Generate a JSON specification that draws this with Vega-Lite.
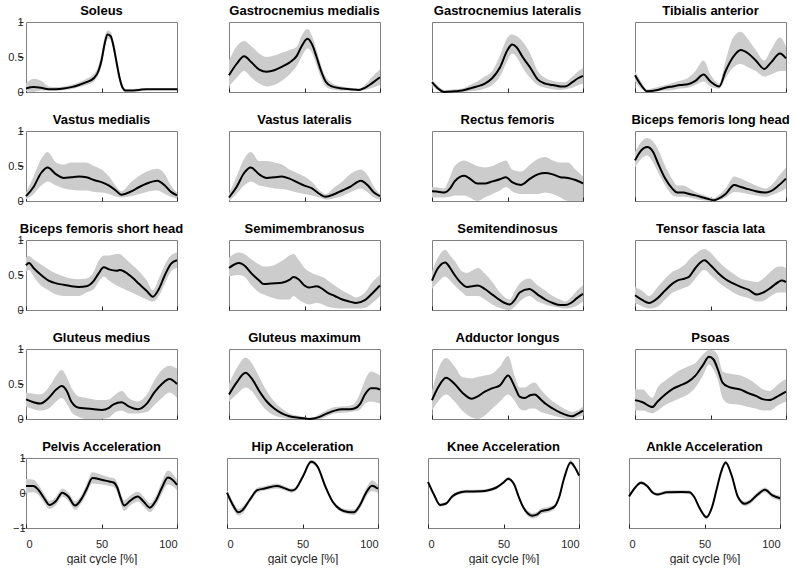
{
  "$schema": "https://vega.github.io/schema/vega-lite/v6.json",
  "padding": {"left": 0, "top": 4, "right": 0, "bottom": 0},
  "background": "white",
  "config": {
    "font": "Arial",
    "view": {"stroke": "#808080", "strokeWidth": 1},
    "axis": {
      "domain": false, "grid": false, "tickSize": -4, "tickColor": "#262626", "labelOverlap": false,
      "labelColor": "#262626", "labelFontSize": 11, "labelFont": "Arial",
      "titleFont": "Arial", "titleFontSize": 12, "titleFontWeight": "normal", "titleColor": "#262626"
    },
    "axisY": {"minExtent": 19, "maxExtent": 19},
    "header": {
      "title": null, "labelFont": "Arial", "labelFontSize": 13, "labelFontWeight": "bold",
      "labelColor": "#000000", "labelPadding": 4
    }
  },
  "datasets": {
    "emg": [
      {"panel":"Soleus","x":0,"mean":0.05,"lo":0.01,"hi":0.12},
      {"panel":"Soleus","x":5,"mean":0.07,"lo":0,"hi":0.19},
      {"panel":"Soleus","x":10,"mean":0.06,"lo":0.02,"hi":0.16},
      {"panel":"Soleus","x":15,"mean":0.04,"lo":0.02,"hi":0.08},
      {"panel":"Soleus","x":20,"mean":0.04,"lo":0.02,"hi":0.07},
      {"panel":"Soleus","x":25,"mean":0.05,"lo":0.03,"hi":0.08},
      {"panel":"Soleus","x":30,"mean":0.07,"lo":0.04,"hi":0.1},
      {"panel":"Soleus","x":35,"mean":0.1,"lo":0.07,"hi":0.14},
      {"panel":"Soleus","x":40,"mean":0.14,"lo":0.1,"hi":0.19},
      {"panel":"Soleus","x":45,"mean":0.2,"lo":0.15,"hi":0.26},
      {"panel":"Soleus","x":48,"mean":0.3,"lo":0.25,"hi":0.38},
      {"panel":"Soleus","x":50,"mean":0.45,"lo":0.38,"hi":0.55},
      {"panel":"Soleus","x":52,"mean":0.68,"lo":0.6,"hi":0.78},
      {"panel":"Soleus","x":54,"mean":0.82,"lo":0.76,"hi":0.88},
      {"panel":"Soleus","x":56,"mean":0.8,"lo":0.75,"hi":0.86},
      {"panel":"Soleus","x":58,"mean":0.65,"lo":0.58,"hi":0.72},
      {"panel":"Soleus","x":60,"mean":0.42,"lo":0.35,"hi":0.5},
      {"panel":"Soleus","x":62,"mean":0.2,"lo":0.14,"hi":0.26},
      {"panel":"Soleus","x":64,"mean":0.06,"lo":0.03,"hi":0.1},
      {"panel":"Soleus","x":66,"mean":0.02,"lo":0,"hi":0.04},
      {"panel":"Soleus","x":70,"mean":0.02,"lo":0.01,"hi":0.04},
      {"panel":"Soleus","x":75,"mean":0.03,"lo":0.02,"hi":0.05},
      {"panel":"Soleus","x":80,"mean":0.04,"lo":0.03,"hi":0.05},
      {"panel":"Soleus","x":90,"mean":0.04,"lo":0.03,"hi":0.05},
      {"panel":"Soleus","x":100,"mean":0.04,"lo":0.03,"hi":0.05},

      {"panel":"Gastrocnemius medialis","x":0,"mean":0.24,"lo":0.08,"hi":0.45},
      {"panel":"Gastrocnemius medialis","x":5,"mean":0.4,"lo":0.2,"hi":0.65},
      {"panel":"Gastrocnemius medialis","x":10,"mean":0.51,"lo":0.3,"hi":0.73},
      {"panel":"Gastrocnemius medialis","x":15,"mean":0.42,"lo":0.2,"hi":0.65},
      {"panel":"Gastrocnemius medialis","x":20,"mean":0.32,"lo":0.12,"hi":0.55},
      {"panel":"Gastrocnemius medialis","x":25,"mean":0.29,"lo":0.08,"hi":0.5},
      {"panel":"Gastrocnemius medialis","x":30,"mean":0.31,"lo":0.1,"hi":0.52},
      {"panel":"Gastrocnemius medialis","x":35,"mean":0.36,"lo":0.16,"hi":0.56},
      {"panel":"Gastrocnemius medialis","x":40,"mean":0.42,"lo":0.25,"hi":0.6},
      {"panel":"Gastrocnemius medialis","x":45,"mean":0.52,"lo":0.38,"hi":0.65},
      {"panel":"Gastrocnemius medialis","x":48,"mean":0.65,"lo":0.5,"hi":0.8},
      {"panel":"Gastrocnemius medialis","x":52,"mean":0.76,"lo":0.62,"hi":0.9},
      {"panel":"Gastrocnemius medialis","x":55,"mean":0.68,"lo":0.56,"hi":0.8},
      {"panel":"Gastrocnemius medialis","x":58,"mean":0.5,"lo":0.38,"hi":0.6},
      {"panel":"Gastrocnemius medialis","x":61,"mean":0.3,"lo":0.2,"hi":0.38},
      {"panel":"Gastrocnemius medialis","x":64,"mean":0.15,"lo":0.08,"hi":0.22},
      {"panel":"Gastrocnemius medialis","x":68,"mean":0.08,"lo":0.04,"hi":0.13},
      {"panel":"Gastrocnemius medialis","x":75,"mean":0.05,"lo":0.02,"hi":0.08},
      {"panel":"Gastrocnemius medialis","x":80,"mean":0.04,"lo":0.02,"hi":0.06},
      {"panel":"Gastrocnemius medialis","x":86,"mean":0.03,"lo":0.02,"hi":0.05},
      {"panel":"Gastrocnemius medialis","x":90,"mean":0.06,"lo":0.03,"hi":0.1},
      {"panel":"Gastrocnemius medialis","x":95,"mean":0.13,"lo":0.06,"hi":0.22},
      {"panel":"Gastrocnemius medialis","x":100,"mean":0.21,"lo":0.1,"hi":0.32},

      {"panel":"Gastrocnemius lateralis","x":0,"mean":0.14,"lo":0.1,"hi":0.18},
      {"panel":"Gastrocnemius lateralis","x":4,"mean":0.05,"lo":0.02,"hi":0.09},
      {"panel":"Gastrocnemius lateralis","x":8,"mean":0,"lo":0,"hi":0.03},
      {"panel":"Gastrocnemius lateralis","x":15,"mean":0.01,"lo":0,"hi":0.04},
      {"panel":"Gastrocnemius lateralis","x":20,"mean":0.02,"lo":0,"hi":0.05},
      {"panel":"Gastrocnemius lateralis","x":25,"mean":0.05,"lo":0.01,"hi":0.1},
      {"panel":"Gastrocnemius lateralis","x":30,"mean":0.08,"lo":0.02,"hi":0.15},
      {"panel":"Gastrocnemius lateralis","x":35,"mean":0.12,"lo":0.05,"hi":0.22},
      {"panel":"Gastrocnemius lateralis","x":40,"mean":0.2,"lo":0.1,"hi":0.3},
      {"panel":"Gastrocnemius lateralis","x":45,"mean":0.35,"lo":0.22,"hi":0.52},
      {"panel":"Gastrocnemius lateralis","x":50,"mean":0.6,"lo":0.45,"hi":0.78},
      {"panel":"Gastrocnemius lateralis","x":53,"mean":0.68,"lo":0.55,"hi":0.82},
      {"panel":"Gastrocnemius lateralis","x":56,"mean":0.64,"lo":0.5,"hi":0.8},
      {"panel":"Gastrocnemius lateralis","x":60,"mean":0.5,"lo":0.35,"hi":0.72},
      {"panel":"Gastrocnemius lateralis","x":65,"mean":0.35,"lo":0.2,"hi":0.55},
      {"panel":"Gastrocnemius lateralis","x":70,"mean":0.18,"lo":0.1,"hi":0.3},
      {"panel":"Gastrocnemius lateralis","x":75,"mean":0.12,"lo":0.06,"hi":0.2},
      {"panel":"Gastrocnemius lateralis","x":80,"mean":0.1,"lo":0.04,"hi":0.16},
      {"panel":"Gastrocnemius lateralis","x":85,"mean":0.08,"lo":0.03,"hi":0.14},
      {"panel":"Gastrocnemius lateralis","x":88,"mean":0.08,"lo":0.04,"hi":0.14},
      {"panel":"Gastrocnemius lateralis","x":93,"mean":0.14,"lo":0.06,"hi":0.22},
      {"panel":"Gastrocnemius lateralis","x":97,"mean":0.2,"lo":0.1,"hi":0.3},
      {"panel":"Gastrocnemius lateralis","x":100,"mean":0.23,"lo":0.12,"hi":0.34},

      {"panel":"Tibialis anterior","x":0,"mean":0.24,"lo":0.15,"hi":0.3},
      {"panel":"Tibialis anterior","x":4,"mean":0.1,"lo":0.05,"hi":0.15},
      {"panel":"Tibialis anterior","x":8,"mean":0.01,"lo":0,"hi":0.04},
      {"panel":"Tibialis anterior","x":15,"mean":0.03,"lo":0.01,"hi":0.07},
      {"panel":"Tibialis anterior","x":20,"mean":0.06,"lo":0.02,"hi":0.1},
      {"panel":"Tibialis anterior","x":25,"mean":0.08,"lo":0.03,"hi":0.13},
      {"panel":"Tibialis anterior","x":30,"mean":0.1,"lo":0.05,"hi":0.16},
      {"panel":"Tibialis anterior","x":35,"mean":0.11,"lo":0.06,"hi":0.2},
      {"panel":"Tibialis anterior","x":40,"mean":0.16,"lo":0.1,"hi":0.3},
      {"panel":"Tibialis anterior","x":45.4,"mean":0.25,"lo":0.15,"hi":0.45},
      {"panel":"Tibialis anterior","x":50,"mean":0.15,"lo":0.08,"hi":0.25},
      {"panel":"Tibialis anterior","x":55.8,"mean":0.08,"lo":0.05,"hi":0.12},
      {"panel":"Tibialis anterior","x":60,"mean":0.3,"lo":0.2,"hi":0.45},
      {"panel":"Tibialis anterior","x":65,"mean":0.5,"lo":0.35,"hi":0.78},
      {"panel":"Tibialis anterior","x":70,"mean":0.6,"lo":0.4,"hi":0.86},
      {"panel":"Tibialis anterior","x":75,"mean":0.55,"lo":0.35,"hi":0.75},
      {"panel":"Tibialis anterior","x":80,"mean":0.45,"lo":0.3,"hi":0.6},
      {"panel":"Tibialis anterior","x":85.6,"mean":0.33,"lo":0.22,"hi":0.45},
      {"panel":"Tibialis anterior","x":90,"mean":0.42,"lo":0.25,"hi":0.6},
      {"panel":"Tibialis anterior","x":96,"mean":0.55,"lo":0.3,"hi":0.78},
      {"panel":"Tibialis anterior","x":100,"mean":0.48,"lo":0.3,"hi":0.65},

      {"panel":"Vastus medialis","x":0,"mean":0.07,"lo":0.02,"hi":0.12},
      {"panel":"Vastus medialis","x":5,"mean":0.2,"lo":0.1,"hi":0.35},
      {"panel":"Vastus medialis","x":10,"mean":0.4,"lo":0.22,"hi":0.6},
      {"panel":"Vastus medialis","x":14.3,"mean":0.48,"lo":0.28,"hi":0.7},
      {"panel":"Vastus medialis","x":20,"mean":0.38,"lo":0.22,"hi":0.55},
      {"panel":"Vastus medialis","x":25,"mean":0.33,"lo":0.18,"hi":0.52},
      {"panel":"Vastus medialis","x":30,"mean":0.34,"lo":0.16,"hi":0.55},
      {"panel":"Vastus medialis","x":35,"mean":0.35,"lo":0.15,"hi":0.55},
      {"panel":"Vastus medialis","x":40,"mean":0.34,"lo":0.15,"hi":0.55},
      {"panel":"Vastus medialis","x":45,"mean":0.3,"lo":0.13,"hi":0.5},
      {"panel":"Vastus medialis","x":50,"mean":0.27,"lo":0.12,"hi":0.45},
      {"panel":"Vastus medialis","x":55,"mean":0.22,"lo":0.1,"hi":0.35},
      {"panel":"Vastus medialis","x":60,"mean":0.14,"lo":0.06,"hi":0.2},
      {"panel":"Vastus medialis","x":63,"mean":0.09,"lo":0.05,"hi":0.14},
      {"panel":"Vastus medialis","x":70,"mean":0.14,"lo":0.07,"hi":0.28},
      {"panel":"Vastus medialis","x":75,"mean":0.2,"lo":0.1,"hi":0.36},
      {"panel":"Vastus medialis","x":80,"mean":0.25,"lo":0.13,"hi":0.42},
      {"panel":"Vastus medialis","x":87,"mean":0.29,"lo":0.15,"hi":0.46},
      {"panel":"Vastus medialis","x":92,"mean":0.22,"lo":0.1,"hi":0.38},
      {"panel":"Vastus medialis","x":96,"mean":0.13,"lo":0.06,"hi":0.22},
      {"panel":"Vastus medialis","x":100,"mean":0.08,"lo":0.03,"hi":0.12},

      {"panel":"Vastus lateralis","x":0,"mean":0.05,"lo":0,"hi":0.1},
      {"panel":"Vastus lateralis","x":5,"mean":0.2,"lo":0.1,"hi":0.35},
      {"panel":"Vastus lateralis","x":10,"mean":0.4,"lo":0.22,"hi":0.6},
      {"panel":"Vastus lateralis","x":14.4,"mean":0.48,"lo":0.28,"hi":0.7},
      {"panel":"Vastus lateralis","x":20,"mean":0.38,"lo":0.22,"hi":0.57},
      {"panel":"Vastus lateralis","x":25,"mean":0.33,"lo":0.2,"hi":0.57},
      {"panel":"Vastus lateralis","x":30,"mean":0.34,"lo":0.18,"hi":0.55},
      {"panel":"Vastus lateralis","x":35,"mean":0.35,"lo":0.17,"hi":0.52},
      {"panel":"Vastus lateralis","x":40,"mean":0.32,"lo":0.15,"hi":0.45},
      {"panel":"Vastus lateralis","x":45,"mean":0.27,"lo":0.12,"hi":0.4},
      {"panel":"Vastus lateralis","x":50,"mean":0.22,"lo":0.1,"hi":0.35},
      {"panel":"Vastus lateralis","x":55,"mean":0.18,"lo":0.08,"hi":0.27},
      {"panel":"Vastus lateralis","x":60,"mean":0.1,"lo":0.05,"hi":0.15},
      {"panel":"Vastus lateralis","x":64,"mean":0.06,"lo":0.02,"hi":0.1},
      {"panel":"Vastus lateralis","x":70,"mean":0.1,"lo":0.04,"hi":0.2},
      {"panel":"Vastus lateralis","x":75,"mean":0.15,"lo":0.07,"hi":0.28},
      {"panel":"Vastus lateralis","x":80,"mean":0.2,"lo":0.12,"hi":0.38},
      {"panel":"Vastus lateralis","x":87.4,"mean":0.29,"lo":0.18,"hi":0.45},
      {"panel":"Vastus lateralis","x":92,"mean":0.22,"lo":0.12,"hi":0.36},
      {"panel":"Vastus lateralis","x":96,"mean":0.12,"lo":0.05,"hi":0.2},
      {"panel":"Vastus lateralis","x":100,"mean":0.07,"lo":0.02,"hi":0.1},

      {"panel":"Rectus femoris","x":0,"mean":0.14,"lo":0.05,"hi":0.2},
      {"panel":"Rectus femoris","x":5,"mean":0.13,"lo":0.05,"hi":0.19},
      {"panel":"Rectus femoris","x":8,"mean":0.12,"lo":0.05,"hi":0.18},
      {"panel":"Rectus femoris","x":12,"mean":0.18,"lo":0.06,"hi":0.35},
      {"panel":"Rectus femoris","x":15,"mean":0.28,"lo":0.08,"hi":0.5},
      {"panel":"Rectus femoris","x":21.5,"mean":0.36,"lo":0.08,"hi":0.58},
      {"panel":"Rectus femoris","x":25,"mean":0.32,"lo":0.05,"hi":0.55},
      {"panel":"Rectus femoris","x":30,"mean":0.25,"lo":0,"hi":0.5},
      {"panel":"Rectus femoris","x":35,"mean":0.25,"lo":0.05,"hi":0.48},
      {"panel":"Rectus femoris","x":40,"mean":0.28,"lo":0.1,"hi":0.5},
      {"panel":"Rectus femoris","x":45,"mean":0.31,"lo":0.15,"hi":0.55},
      {"panel":"Rectus femoris","x":49,"mean":0.34,"lo":0.2,"hi":0.58},
      {"panel":"Rectus femoris","x":53,"mean":0.27,"lo":0.14,"hi":0.45},
      {"panel":"Rectus femoris","x":59,"mean":0.23,"lo":0.1,"hi":0.42},
      {"panel":"Rectus femoris","x":65,"mean":0.32,"lo":0.1,"hi":0.52},
      {"panel":"Rectus femoris","x":70,"mean":0.38,"lo":0.1,"hi":0.6},
      {"panel":"Rectus femoris","x":75,"mean":0.4,"lo":0.12,"hi":0.63},
      {"panel":"Rectus femoris","x":80,"mean":0.38,"lo":0.1,"hi":0.58},
      {"panel":"Rectus femoris","x":85,"mean":0.34,"lo":0.05,"hi":0.55},
      {"panel":"Rectus femoris","x":90,"mean":0.33,"lo":0,"hi":0.55},
      {"panel":"Rectus femoris","x":95,"mean":0.3,"lo":0,"hi":0.45},
      {"panel":"Rectus femoris","x":100,"mean":0.25,"lo":0,"hi":0.35},

      {"panel":"Biceps femoris long head","x":0,"mean":0.58,"lo":0.48,"hi":0.7},
      {"panel":"Biceps femoris long head","x":4,"mean":0.72,"lo":0.6,"hi":0.84},
      {"panel":"Biceps femoris long head","x":8,"mean":0.77,"lo":0.65,"hi":0.9},
      {"panel":"Biceps femoris long head","x":12,"mean":0.7,"lo":0.55,"hi":0.85},
      {"panel":"Biceps femoris long head","x":15,"mean":0.55,"lo":0.42,"hi":0.75},
      {"panel":"Biceps femoris long head","x":20,"mean":0.32,"lo":0.22,"hi":0.5},
      {"panel":"Biceps femoris long head","x":25,"mean":0.17,"lo":0.08,"hi":0.3},
      {"panel":"Biceps femoris long head","x":28,"mean":0.12,"lo":0.06,"hi":0.22},
      {"panel":"Biceps femoris long head","x":32,"mean":0.12,"lo":0.06,"hi":0.22},
      {"panel":"Biceps femoris long head","x":36,"mean":0.1,"lo":0.05,"hi":0.18},
      {"panel":"Biceps femoris long head","x":40,"mean":0.08,"lo":0.03,"hi":0.13},
      {"panel":"Biceps femoris long head","x":45,"mean":0.05,"lo":0.01,"hi":0.09},
      {"panel":"Biceps femoris long head","x":50,"mean":0.02,"lo":0,"hi":0.05},
      {"panel":"Biceps femoris long head","x":52,"mean":0.01,"lo":0,"hi":0.04},
      {"panel":"Biceps femoris long head","x":55,"mean":0.03,"lo":0.01,"hi":0.08},
      {"panel":"Biceps femoris long head","x":60,"mean":0.1,"lo":0.05,"hi":0.18},
      {"panel":"Biceps femoris long head","x":65.7,"mean":0.23,"lo":0.13,"hi":0.35},
      {"panel":"Biceps femoris long head","x":70,"mean":0.2,"lo":0.12,"hi":0.32},
      {"panel":"Biceps femoris long head","x":75,"mean":0.17,"lo":0.1,"hi":0.27},
      {"panel":"Biceps femoris long head","x":80,"mean":0.14,"lo":0.08,"hi":0.22},
      {"panel":"Biceps femoris long head","x":86.7,"mean":0.12,"lo":0.06,"hi":0.18},
      {"panel":"Biceps femoris long head","x":90,"mean":0.14,"lo":0.08,"hi":0.22},
      {"panel":"Biceps femoris long head","x":95,"mean":0.22,"lo":0.12,"hi":0.35},
      {"panel":"Biceps femoris long head","x":100,"mean":0.32,"lo":0.18,"hi":0.48},

      {"panel":"Biceps femoris short head","x":0,"mean":0.64,"lo":0.55,"hi":0.75},
      {"panel":"Biceps femoris short head","x":2,"mean":0.67,"lo":0.57,"hi":0.77},
      {"panel":"Biceps femoris short head","x":5,"mean":0.6,"lo":0.48,"hi":0.72},
      {"panel":"Biceps femoris short head","x":10,"mean":0.5,"lo":0.35,"hi":0.65},
      {"panel":"Biceps femoris short head","x":15,"mean":0.42,"lo":0.28,"hi":0.58},
      {"panel":"Biceps femoris short head","x":20,"mean":0.38,"lo":0.22,"hi":0.52},
      {"panel":"Biceps femoris short head","x":25,"mean":0.36,"lo":0.2,"hi":0.48},
      {"panel":"Biceps femoris short head","x":30,"mean":0.34,"lo":0.2,"hi":0.45},
      {"panel":"Biceps femoris short head","x":35,"mean":0.33,"lo":0.2,"hi":0.44},
      {"panel":"Biceps femoris short head","x":40,"mean":0.34,"lo":0.25,"hi":0.45},
      {"panel":"Biceps femoris short head","x":45,"mean":0.42,"lo":0.3,"hi":0.55},
      {"panel":"Biceps femoris short head","x":48,"mean":0.52,"lo":0.4,"hi":0.7},
      {"panel":"Biceps femoris short head","x":51.5,"mean":0.61,"lo":0.48,"hi":0.78},
      {"panel":"Biceps femoris short head","x":55,"mean":0.58,"lo":0.42,"hi":0.78},
      {"panel":"Biceps femoris short head","x":60,"mean":0.56,"lo":0.35,"hi":0.8},
      {"panel":"Biceps femoris short head","x":62,"mean":0.57,"lo":0.33,"hi":0.8},
      {"panel":"Biceps femoris short head","x":65,"mean":0.55,"lo":0.3,"hi":0.75},
      {"panel":"Biceps femoris short head","x":70,"mean":0.47,"lo":0.25,"hi":0.65},
      {"panel":"Biceps femoris short head","x":75,"mean":0.37,"lo":0.2,"hi":0.55},
      {"panel":"Biceps femoris short head","x":80,"mean":0.27,"lo":0.15,"hi":0.42},
      {"panel":"Biceps femoris short head","x":84,"mean":0.19,"lo":0.12,"hi":0.28},
      {"panel":"Biceps femoris short head","x":88,"mean":0.3,"lo":0.2,"hi":0.45},
      {"panel":"Biceps femoris short head","x":92,"mean":0.5,"lo":0.38,"hi":0.65},
      {"panel":"Biceps femoris short head","x":96,"mean":0.66,"lo":0.55,"hi":0.78},
      {"panel":"Biceps femoris short head","x":100,"mean":0.71,"lo":0.6,"hi":0.82},

      {"panel":"Semimembranosus","x":0,"mean":0.6,"lo":0.48,"hi":0.75},
      {"panel":"Semimembranosus","x":6.6,"mean":0.67,"lo":0.5,"hi":0.82},
      {"panel":"Semimembranosus","x":10,"mean":0.64,"lo":0.48,"hi":0.8},
      {"panel":"Semimembranosus","x":15,"mean":0.52,"lo":0.35,"hi":0.72},
      {"panel":"Semimembranosus","x":20,"mean":0.42,"lo":0.25,"hi":0.65},
      {"panel":"Semimembranosus","x":23,"mean":0.37,"lo":0.22,"hi":0.62},
      {"panel":"Semimembranosus","x":28,"mean":0.38,"lo":0.18,"hi":0.63},
      {"panel":"Semimembranosus","x":35,"mean":0.39,"lo":0.15,"hi":0.7},
      {"panel":"Semimembranosus","x":40,"mean":0.43,"lo":0.15,"hi":0.78},
      {"panel":"Semimembranosus","x":42.7,"mean":0.47,"lo":0.2,"hi":0.8},
      {"panel":"Semimembranosus","x":46,"mean":0.44,"lo":0.15,"hi":0.72},
      {"panel":"Semimembranosus","x":50,"mean":0.35,"lo":0.1,"hi":0.6},
      {"panel":"Semimembranosus","x":53,"mean":0.32,"lo":0.08,"hi":0.55},
      {"panel":"Semimembranosus","x":58,"mean":0.34,"lo":0.1,"hi":0.5},
      {"panel":"Semimembranosus","x":62,"mean":0.3,"lo":0.08,"hi":0.47},
      {"panel":"Semimembranosus","x":65,"mean":0.25,"lo":0.05,"hi":0.43},
      {"panel":"Semimembranosus","x":70,"mean":0.2,"lo":0.03,"hi":0.35},
      {"panel":"Semimembranosus","x":75,"mean":0.15,"lo":0.02,"hi":0.28},
      {"panel":"Semimembranosus","x":80,"mean":0.12,"lo":0.02,"hi":0.22},
      {"panel":"Semimembranosus","x":84,"mean":0.1,"lo":0.02,"hi":0.18},
      {"panel":"Semimembranosus","x":90,"mean":0.14,"lo":0.03,"hi":0.25},
      {"panel":"Semimembranosus","x":95,"mean":0.24,"lo":0.1,"hi":0.4},
      {"panel":"Semimembranosus","x":100,"mean":0.35,"lo":0.2,"hi":0.5},

      {"panel":"Semitendinosus","x":0,"mean":0.42,"lo":0.3,"hi":0.55},
      {"panel":"Semitendinosus","x":4,"mean":0.6,"lo":0.4,"hi":0.75},
      {"panel":"Semitendinosus","x":8.7,"mean":0.68,"lo":0.48,"hi":0.86},
      {"panel":"Semitendinosus","x":12,"mean":0.6,"lo":0.42,"hi":0.78},
      {"panel":"Semitendinosus","x":15,"mean":0.5,"lo":0.35,"hi":0.7},
      {"panel":"Semitendinosus","x":20,"mean":0.37,"lo":0.25,"hi":0.55},
      {"panel":"Semitendinosus","x":23,"mean":0.33,"lo":0.2,"hi":0.53},
      {"panel":"Semitendinosus","x":30.4,"mean":0.35,"lo":0.2,"hi":0.6},
      {"panel":"Semitendinosus","x":35,"mean":0.3,"lo":0.15,"hi":0.52},
      {"panel":"Semitendinosus","x":40,"mean":0.22,"lo":0.08,"hi":0.4},
      {"panel":"Semitendinosus","x":45,"mean":0.14,"lo":0.03,"hi":0.25},
      {"panel":"Semitendinosus","x":51.5,"mean":0.08,"lo":0,"hi":0.15},
      {"panel":"Semitendinosus","x":55,"mean":0.15,"lo":0.05,"hi":0.28},
      {"panel":"Semitendinosus","x":58,"mean":0.25,"lo":0.12,"hi":0.38},
      {"panel":"Semitendinosus","x":64.4,"mean":0.3,"lo":0.2,"hi":0.45},
      {"panel":"Semitendinosus","x":70,"mean":0.22,"lo":0.12,"hi":0.35},
      {"panel":"Semitendinosus","x":75,"mean":0.15,"lo":0.08,"hi":0.28},
      {"panel":"Semitendinosus","x":80,"mean":0.1,"lo":0.05,"hi":0.2},
      {"panel":"Semitendinosus","x":85,"mean":0.07,"lo":0.03,"hi":0.15},
      {"panel":"Semitendinosus","x":88,"mean":0.07,"lo":0.02,"hi":0.12},
      {"panel":"Semitendinosus","x":92,"mean":0.1,"lo":0.03,"hi":0.18},
      {"panel":"Semitendinosus","x":96,"mean":0.17,"lo":0.06,"hi":0.28},
      {"panel":"Semitendinosus","x":100,"mean":0.23,"lo":0.12,"hi":0.35},

      {"panel":"Tensor fascia lata","x":0,"mean":0.21,"lo":0.1,"hi":0.33},
      {"panel":"Tensor fascia lata","x":5,"mean":0.14,"lo":0.05,"hi":0.27},
      {"panel":"Tensor fascia lata","x":9.3,"mean":0.1,"lo":0.02,"hi":0.2},
      {"panel":"Tensor fascia lata","x":15,"mean":0.17,"lo":0.05,"hi":0.33},
      {"panel":"Tensor fascia lata","x":20,"mean":0.28,"lo":0.15,"hi":0.45},
      {"panel":"Tensor fascia lata","x":25,"mean":0.38,"lo":0.25,"hi":0.55},
      {"panel":"Tensor fascia lata","x":28,"mean":0.42,"lo":0.28,"hi":0.58},
      {"panel":"Tensor fascia lata","x":33,"mean":0.45,"lo":0.32,"hi":0.65},
      {"panel":"Tensor fascia lata","x":36,"mean":0.48,"lo":0.35,"hi":0.72},
      {"panel":"Tensor fascia lata","x":40,"mean":0.6,"lo":0.45,"hi":0.8},
      {"panel":"Tensor fascia lata","x":46,"mean":0.71,"lo":0.57,"hi":0.87},
      {"panel":"Tensor fascia lata","x":50,"mean":0.64,"lo":0.5,"hi":0.82},
      {"panel":"Tensor fascia lata","x":55,"mean":0.53,"lo":0.4,"hi":0.7},
      {"panel":"Tensor fascia lata","x":60,"mean":0.44,"lo":0.32,"hi":0.6},
      {"panel":"Tensor fascia lata","x":65,"mean":0.38,"lo":0.25,"hi":0.52},
      {"panel":"Tensor fascia lata","x":70,"mean":0.33,"lo":0.2,"hi":0.45},
      {"panel":"Tensor fascia lata","x":75,"mean":0.29,"lo":0.17,"hi":0.42},
      {"panel":"Tensor fascia lata","x":80.8,"mean":0.22,"lo":0.12,"hi":0.4},
      {"panel":"Tensor fascia lata","x":85,"mean":0.25,"lo":0.13,"hi":0.45},
      {"panel":"Tensor fascia lata","x":90,"mean":0.32,"lo":0.2,"hi":0.55},
      {"panel":"Tensor fascia lata","x":95,"mean":0.4,"lo":0.25,"hi":0.62},
      {"panel":"Tensor fascia lata","x":97,"mean":0.42,"lo":0.25,"hi":0.62},
      {"panel":"Tensor fascia lata","x":100,"mean":0.4,"lo":0.25,"hi":0.6},

      {"panel":"Gluteus medius","x":0,"mean":0.28,"lo":0.18,"hi":0.38},
      {"panel":"Gluteus medius","x":5,"mean":0.24,"lo":0.14,"hi":0.36},
      {"panel":"Gluteus medius","x":9.5,"mean":0.22,"lo":0.12,"hi":0.35},
      {"panel":"Gluteus medius","x":15,"mean":0.3,"lo":0.15,"hi":0.45},
      {"panel":"Gluteus medius","x":20,"mean":0.42,"lo":0.25,"hi":0.62},
      {"panel":"Gluteus medius","x":23.6,"mean":0.47,"lo":0.3,"hi":0.7},
      {"panel":"Gluteus medius","x":27,"mean":0.4,"lo":0.22,"hi":0.6},
      {"panel":"Gluteus medius","x":30,"mean":0.25,"lo":0.1,"hi":0.45},
      {"panel":"Gluteus medius","x":35,"mean":0.16,"lo":0.03,"hi":0.32},
      {"panel":"Gluteus medius","x":40,"mean":0.15,"lo":0,"hi":0.3},
      {"panel":"Gluteus medius","x":45,"mean":0.14,"lo":0,"hi":0.28},
      {"panel":"Gluteus medius","x":50,"mean":0.13,"lo":0,"hi":0.27},
      {"panel":"Gluteus medius","x":55,"mean":0.16,"lo":0.02,"hi":0.28},
      {"panel":"Gluteus medius","x":58,"mean":0.21,"lo":0.08,"hi":0.33},
      {"panel":"Gluteus medius","x":63.4,"mean":0.24,"lo":0.12,"hi":0.4},
      {"panel":"Gluteus medius","x":68,"mean":0.18,"lo":0.08,"hi":0.3},
      {"panel":"Gluteus medius","x":74,"mean":0.14,"lo":0.08,"hi":0.25},
      {"panel":"Gluteus medius","x":80,"mean":0.22,"lo":0.1,"hi":0.35},
      {"panel":"Gluteus medius","x":85,"mean":0.38,"lo":0.2,"hi":0.55},
      {"panel":"Gluteus medius","x":90,"mean":0.5,"lo":0.3,"hi":0.7},
      {"panel":"Gluteus medius","x":95,"mean":0.57,"lo":0.38,"hi":0.76},
      {"panel":"Gluteus medius","x":100,"mean":0.5,"lo":0.3,"hi":0.72},

      {"panel":"Gluteus maximum","x":0,"mean":0.35,"lo":0.25,"hi":0.5},
      {"panel":"Gluteus maximum","x":5,"mean":0.52,"lo":0.35,"hi":0.72},
      {"panel":"Gluteus maximum","x":11,"mean":0.66,"lo":0.45,"hi":0.88},
      {"panel":"Gluteus maximum","x":15,"mean":0.58,"lo":0.4,"hi":0.8},
      {"panel":"Gluteus maximum","x":20,"mean":0.4,"lo":0.25,"hi":0.6},
      {"panel":"Gluteus maximum","x":25,"mean":0.25,"lo":0.12,"hi":0.4},
      {"panel":"Gluteus maximum","x":30,"mean":0.15,"lo":0.05,"hi":0.25},
      {"panel":"Gluteus maximum","x":35,"mean":0.08,"lo":0.02,"hi":0.15},
      {"panel":"Gluteus maximum","x":40,"mean":0.04,"lo":0,"hi":0.08},
      {"panel":"Gluteus maximum","x":45,"mean":0.02,"lo":0,"hi":0.05},
      {"panel":"Gluteus maximum","x":50,"mean":0.01,"lo":0,"hi":0.03},
      {"panel":"Gluteus maximum","x":53,"mean":0,"lo":0,"hi":0.02},
      {"panel":"Gluteus maximum","x":57,"mean":0.01,"lo":0,"hi":0.03},
      {"panel":"Gluteus maximum","x":60,"mean":0.03,"lo":0,"hi":0.07},
      {"panel":"Gluteus maximum","x":65,"mean":0.08,"lo":0.04,"hi":0.13},
      {"panel":"Gluteus maximum","x":70,"mean":0.12,"lo":0.08,"hi":0.17},
      {"panel":"Gluteus maximum","x":75,"mean":0.14,"lo":0.09,"hi":0.18},
      {"panel":"Gluteus maximum","x":80,"mean":0.14,"lo":0.1,"hi":0.19},
      {"panel":"Gluteus maximum","x":83,"mean":0.15,"lo":0.11,"hi":0.22},
      {"panel":"Gluteus maximum","x":87,"mean":0.22,"lo":0.14,"hi":0.38},
      {"panel":"Gluteus maximum","x":90,"mean":0.35,"lo":0.22,"hi":0.55},
      {"panel":"Gluteus maximum","x":94,"mean":0.44,"lo":0.25,"hi":0.68},
      {"panel":"Gluteus maximum","x":97,"mean":0.44,"lo":0.24,"hi":0.66},
      {"panel":"Gluteus maximum","x":100,"mean":0.42,"lo":0.22,"hi":0.62},

      {"panel":"Adductor longus","x":0,"mean":0.27,"lo":0.12,"hi":0.4},
      {"panel":"Adductor longus","x":4,"mean":0.45,"lo":0.25,"hi":0.7},
      {"panel":"Adductor longus","x":9.3,"mean":0.59,"lo":0.35,"hi":0.87},
      {"panel":"Adductor longus","x":15,"mean":0.5,"lo":0.25,"hi":0.75},
      {"panel":"Adductor longus","x":20,"mean":0.38,"lo":0.12,"hi":0.6},
      {"panel":"Adductor longus","x":26.4,"mean":0.29,"lo":0.02,"hi":0.58},
      {"panel":"Adductor longus","x":30,"mean":0.32,"lo":0,"hi":0.6},
      {"panel":"Adductor longus","x":35,"mean":0.39,"lo":0.05,"hi":0.62},
      {"panel":"Adductor longus","x":40,"mean":0.44,"lo":0.15,"hi":0.65},
      {"panel":"Adductor longus","x":45,"mean":0.48,"lo":0.25,"hi":0.75},
      {"panel":"Adductor longus","x":50.4,"mean":0.62,"lo":0.35,"hi":0.9},
      {"panel":"Adductor longus","x":55,"mean":0.45,"lo":0.25,"hi":0.6},
      {"panel":"Adductor longus","x":58,"mean":0.32,"lo":0.15,"hi":0.45},
      {"panel":"Adductor longus","x":61.5,"mean":0.3,"lo":0.12,"hi":0.45},
      {"panel":"Adductor longus","x":65,"mean":0.34,"lo":0.15,"hi":0.5},
      {"panel":"Adductor longus","x":68,"mean":0.35,"lo":0.15,"hi":0.52},
      {"panel":"Adductor longus","x":72,"mean":0.28,"lo":0.1,"hi":0.42},
      {"panel":"Adductor longus","x":75,"mean":0.22,"lo":0.08,"hi":0.35},
      {"panel":"Adductor longus","x":80,"mean":0.15,"lo":0.05,"hi":0.25},
      {"panel":"Adductor longus","x":85,"mean":0.09,"lo":0.02,"hi":0.18},
      {"panel":"Adductor longus","x":90,"mean":0.05,"lo":0,"hi":0.12},
      {"panel":"Adductor longus","x":92.7,"mean":0.04,"lo":0,"hi":0.1},
      {"panel":"Adductor longus","x":96,"mean":0.07,"lo":0.02,"hi":0.12},
      {"panel":"Adductor longus","x":100,"mean":0.12,"lo":0.05,"hi":0.18},

      {"panel":"Psoas","x":0,"mean":0.27,"lo":0.12,"hi":0.42},
      {"panel":"Psoas","x":5,"mean":0.24,"lo":0.12,"hi":0.42},
      {"panel":"Psoas","x":11.5,"mean":0.17,"lo":0.08,"hi":0.3},
      {"panel":"Psoas","x":15,"mean":0.25,"lo":0.12,"hi":0.45},
      {"panel":"Psoas","x":20,"mean":0.35,"lo":0.2,"hi":0.55},
      {"panel":"Psoas","x":25,"mean":0.43,"lo":0.25,"hi":0.63},
      {"panel":"Psoas","x":30,"mean":0.48,"lo":0.3,"hi":0.7},
      {"panel":"Psoas","x":35,"mean":0.53,"lo":0.35,"hi":0.75},
      {"panel":"Psoas","x":40,"mean":0.62,"lo":0.45,"hi":0.8},
      {"panel":"Psoas","x":45,"mean":0.77,"lo":0.62,"hi":0.92},
      {"panel":"Psoas","x":49,"mean":0.89,"lo":0.78,"hi":0.99},
      {"panel":"Psoas","x":52,"mean":0.85,"lo":0.7,"hi":0.98},
      {"panel":"Psoas","x":55,"mean":0.7,"lo":0.55,"hi":0.9},
      {"panel":"Psoas","x":58,"mean":0.52,"lo":0.3,"hi":0.68},
      {"panel":"Psoas","x":62,"mean":0.46,"lo":0.22,"hi":0.65},
      {"panel":"Psoas","x":70,"mean":0.42,"lo":0.2,"hi":0.62},
      {"panel":"Psoas","x":75,"mean":0.37,"lo":0.17,"hi":0.57},
      {"panel":"Psoas","x":80,"mean":0.33,"lo":0.15,"hi":0.5},
      {"panel":"Psoas","x":85,"mean":0.28,"lo":0.12,"hi":0.42},
      {"panel":"Psoas","x":89,"mean":0.27,"lo":0.12,"hi":0.4},
      {"panel":"Psoas","x":95,"mean":0.33,"lo":0.2,"hi":0.5},
      {"panel":"Psoas","x":100,"mean":0.39,"lo":0.25,"hi":0.57}
    ],
    "acc": [
      {"panel":"Pelvis Acceleration","x":0,"mean":0.2,"lo":0,"hi":0.4},
      {"panel":"Pelvis Acceleration","x":5,"mean":0.2,"lo":0.02,"hi":0.38},
      {"panel":"Pelvis Acceleration","x":8,"mean":0.1,"lo":-0.05,"hi":0.25},
      {"panel":"Pelvis Acceleration","x":12,"mean":-0.15,"lo":-0.28,"hi":-0.02},
      {"panel":"Pelvis Acceleration","x":15.5,"mean":-0.34,"lo":-0.46,"hi":-0.22},
      {"panel":"Pelvis Acceleration","x":20,"mean":-0.22,"lo":-0.34,"hi":-0.1},
      {"panel":"Pelvis Acceleration","x":24,"mean":0.01,"lo":-0.11,"hi":0.13},
      {"panel":"Pelvis Acceleration","x":28,"mean":-0.1,"lo":-0.22,"hi":0.02},
      {"panel":"Pelvis Acceleration","x":32.5,"mean":-0.36,"lo":-0.48,"hi":-0.24},
      {"panel":"Pelvis Acceleration","x":37,"mean":-0.15,"lo":-0.27,"hi":-0.03},
      {"panel":"Pelvis Acceleration","x":40,"mean":0.1,"lo":-0.04,"hi":0.24},
      {"panel":"Pelvis Acceleration","x":44,"mean":0.43,"lo":0.27,"hi":0.59},
      {"panel":"Pelvis Acceleration","x":50,"mean":0.38,"lo":0.24,"hi":0.52},
      {"panel":"Pelvis Acceleration","x":55,"mean":0.33,"lo":0.21,"hi":0.45},
      {"panel":"Pelvis Acceleration","x":58,"mean":0.3,"lo":0.17,"hi":0.43},
      {"panel":"Pelvis Acceleration","x":60.5,"mean":0.15,"lo":0.01,"hi":0.29},
      {"panel":"Pelvis Acceleration","x":62.5,"mean":-0.12,"lo":-0.27,"hi":0.03},
      {"panel":"Pelvis Acceleration","x":65,"mean":-0.36,"lo":-0.51,"hi":-0.21},
      {"panel":"Pelvis Acceleration","x":69,"mean":-0.22,"lo":-0.36,"hi":-0.08},
      {"panel":"Pelvis Acceleration","x":74,"mean":-0.1,"lo":-0.24,"hi":0.04},
      {"panel":"Pelvis Acceleration","x":78,"mean":-0.25,"lo":-0.39,"hi":-0.11},
      {"panel":"Pelvis Acceleration","x":82,"mean":-0.42,"lo":-0.55,"hi":-0.29},
      {"panel":"Pelvis Acceleration","x":86,"mean":-0.22,"lo":-0.36,"hi":-0.08},
      {"panel":"Pelvis Acceleration","x":90,"mean":0.15,"lo":-0.03,"hi":0.33},
      {"panel":"Pelvis Acceleration","x":94,"mean":0.44,"lo":0.24,"hi":0.64},
      {"panel":"Pelvis Acceleration","x":97,"mean":0.38,"lo":0.2,"hi":0.56},
      {"panel":"Pelvis Acceleration","x":100,"mean":0.23,"lo":0.08,"hi":0.38},

      {"panel":"Hip Acceleration","x":0,"mean":0.01,"lo":-0.07,"hi":0.09},
      {"panel":"Hip Acceleration","x":4,"mean":-0.35,"lo":-0.45,"hi":-0.25},
      {"panel":"Hip Acceleration","x":7.5,"mean":-0.55,"lo":-0.65,"hi":-0.45},
      {"panel":"Hip Acceleration","x":10,"mean":-0.5,"lo":-0.6,"hi":-0.4},
      {"panel":"Hip Acceleration","x":15,"mean":-0.2,"lo":-0.28,"hi":-0.12},
      {"panel":"Hip Acceleration","x":20,"mean":0.08,"lo":0.01,"hi":0.15},
      {"panel":"Hip Acceleration","x":25,"mean":0.13,"lo":0.07,"hi":0.19},
      {"panel":"Hip Acceleration","x":33,"mean":0.2,"lo":0.13,"hi":0.27},
      {"panel":"Hip Acceleration","x":38,"mean":0.14,"lo":0.08,"hi":0.2},
      {"panel":"Hip Acceleration","x":42.5,"mean":0.07,"lo":0.01,"hi":0.13},
      {"panel":"Hip Acceleration","x":45,"mean":0.1,"lo":0.04,"hi":0.16},
      {"panel":"Hip Acceleration","x":50,"mean":0.45,"lo":0.39,"hi":0.51},
      {"panel":"Hip Acceleration","x":55.7,"mean":0.89,"lo":0.83,"hi":0.95},
      {"panel":"Hip Acceleration","x":60,"mean":0.75,"lo":0.69,"hi":0.81},
      {"panel":"Hip Acceleration","x":65,"mean":0.2,"lo":0.14,"hi":0.26},
      {"panel":"Hip Acceleration","x":70,"mean":-0.25,"lo":-0.31,"hi":-0.19},
      {"panel":"Hip Acceleration","x":75,"mean":-0.47,"lo":-0.53,"hi":-0.41},
      {"panel":"Hip Acceleration","x":80,"mean":-0.54,"lo":-0.61,"hi":-0.47},
      {"panel":"Hip Acceleration","x":84,"mean":-0.55,"lo":-0.63,"hi":-0.47},
      {"panel":"Hip Acceleration","x":88,"mean":-0.35,"lo":-0.45,"hi":-0.25},
      {"panel":"Hip Acceleration","x":92,"mean":0,"lo":-0.12,"hi":0.12},
      {"panel":"Hip Acceleration","x":96,"mean":0.21,"lo":0.06,"hi":0.36},
      {"panel":"Hip Acceleration","x":100,"mean":0.12,"lo":0,"hi":0.24},

      {"panel":"Knee Acceleration","x":0,"mean":0.32,"lo":0.27,"hi":0.37},
      {"panel":"Knee Acceleration","x":4,"mean":-0.05,"lo":-0.1,"hi":0},
      {"panel":"Knee Acceleration","x":8,"mean":-0.34,"lo":-0.39,"hi":-0.29},
      {"panel":"Knee Acceleration","x":12,"mean":-0.3,"lo":-0.35,"hi":-0.25},
      {"panel":"Knee Acceleration","x":16,"mean":-0.1,"lo":-0.15,"hi":-0.05},
      {"panel":"Knee Acceleration","x":20,"mean":0,"lo":-0.05,"hi":0.05},
      {"panel":"Knee Acceleration","x":25,"mean":0.04,"lo":-0.01,"hi":0.09},
      {"panel":"Knee Acceleration","x":35,"mean":0.05,"lo":0,"hi":0.1},
      {"panel":"Knee Acceleration","x":40,"mean":0.08,"lo":0.03,"hi":0.13},
      {"panel":"Knee Acceleration","x":45,"mean":0.15,"lo":0.1,"hi":0.2},
      {"panel":"Knee Acceleration","x":50,"mean":0.3,"lo":0.25,"hi":0.35},
      {"panel":"Knee Acceleration","x":53,"mean":0.41,"lo":0.36,"hi":0.46},
      {"panel":"Knee Acceleration","x":57,"mean":0.25,"lo":0.2,"hi":0.3},
      {"panel":"Knee Acceleration","x":60,"mean":-0.1,"lo":-0.15,"hi":-0.05},
      {"panel":"Knee Acceleration","x":63,"mean":-0.4,"lo":-0.46,"hi":-0.34},
      {"panel":"Knee Acceleration","x":66,"mean":-0.58,"lo":-0.66,"hi":-0.5},
      {"panel":"Knee Acceleration","x":69,"mean":-0.65,"lo":-0.73,"hi":-0.57},
      {"panel":"Knee Acceleration","x":72,"mean":-0.62,"lo":-0.7,"hi":-0.54},
      {"panel":"Knee Acceleration","x":75,"mean":-0.52,"lo":-0.6,"hi":-0.44},
      {"panel":"Knee Acceleration","x":80,"mean":-0.47,"lo":-0.55,"hi":-0.39},
      {"panel":"Knee Acceleration","x":84,"mean":-0.38,"lo":-0.44,"hi":-0.32},
      {"panel":"Knee Acceleration","x":87,"mean":-0.1,"lo":-0.16,"hi":-0.04},
      {"panel":"Knee Acceleration","x":90,"mean":0.4,"lo":0.34,"hi":0.46},
      {"panel":"Knee Acceleration","x":94.5,"mean":0.87,"lo":0.8,"hi":0.94},
      {"panel":"Knee Acceleration","x":97,"mean":0.75,"lo":0.69,"hi":0.81},
      {"panel":"Knee Acceleration","x":100,"mean":0.5,"lo":0.44,"hi":0.56},

      {"panel":"Ankle Acceleration","x":0,"mean":-0.1,"lo":-0.15,"hi":-0.05},
      {"panel":"Ankle Acceleration","x":4,"mean":0.15,"lo":0.1,"hi":0.2},
      {"panel":"Ankle Acceleration","x":8,"mean":0.29,"lo":0.24,"hi":0.34},
      {"panel":"Ankle Acceleration","x":12,"mean":0.2,"lo":0.15,"hi":0.25},
      {"panel":"Ankle Acceleration","x":16,"mean":0,"lo":-0.05,"hi":0.05},
      {"panel":"Ankle Acceleration","x":19,"mean":-0.04,"lo":-0.09,"hi":0.01},
      {"panel":"Ankle Acceleration","x":25,"mean":0.02,"lo":-0.03,"hi":0.07},
      {"panel":"Ankle Acceleration","x":35,"mean":0.03,"lo":-0.02,"hi":0.08},
      {"panel":"Ankle Acceleration","x":40,"mean":0.02,"lo":-0.03,"hi":0.07},
      {"panel":"Ankle Acceleration","x":43,"mean":-0.1,"lo":-0.15,"hi":-0.05},
      {"panel":"Ankle Acceleration","x":47,"mean":-0.45,"lo":-0.5,"hi":-0.4},
      {"panel":"Ankle Acceleration","x":51.3,"mean":-0.69,"lo":-0.75,"hi":-0.63},
      {"panel":"Ankle Acceleration","x":55,"mean":-0.4,"lo":-0.46,"hi":-0.34},
      {"panel":"Ankle Acceleration","x":58,"mean":0.1,"lo":0.04,"hi":0.16},
      {"panel":"Ankle Acceleration","x":61,"mean":0.6,"lo":0.54,"hi":0.66},
      {"panel":"Ankle Acceleration","x":64,"mean":0.87,"lo":0.81,"hi":0.93},
      {"panel":"Ankle Acceleration","x":68,"mean":0.5,"lo":0.44,"hi":0.56},
      {"panel":"Ankle Acceleration","x":72,"mean":-0.1,"lo":-0.16,"hi":-0.04},
      {"panel":"Ankle Acceleration","x":76.8,"mean":-0.31,"lo":-0.38,"hi":-0.24},
      {"panel":"Ankle Acceleration","x":80,"mean":-0.25,"lo":-0.32,"hi":-0.18},
      {"panel":"Ankle Acceleration","x":85,"mean":-0.05,"lo":-0.12,"hi":0.02},
      {"panel":"Ankle Acceleration","x":90,"mean":0.09,"lo":0.02,"hi":0.16},
      {"panel":"Ankle Acceleration","x":95,"mean":-0.07,"lo":-0.14,"hi":0},
      {"panel":"Ankle Acceleration","x":100,"mean":-0.15,"lo":-0.22,"hi":-0.08}
    ]
  },
  "spacing": 16,
  "vconcat": [
    {
      "data": {"name": "emg"},
      "columns": 4,
      "spacing": {"row": 16, "column": 40},
      "facet": {
        "field": "panel", "type": "nominal",
        "sort": ["Soleus", "Gastrocnemius medialis", "Gastrocnemius lateralis", "Tibialis anterior",
                 "Vastus medialis", "Vastus lateralis", "Rectus femoris", "Biceps femoris long head",
                 "Biceps femoris short head", "Semimembranosus", "Semitendinosus", "Tensor fascia lata",
                 "Gluteus medius", "Gluteus maximum", "Adductor longus", "Psoas"],
        "header": {"title": null}
      },
      "spec": {
        "width": 151,
        "height": 70,
        "encoding": {
          "x": {
            "field": "x", "type": "quantitative",
            "scale": {"domain": [0, 100], "nice": false},
            "axis": {"values": [0, 50, 100], "labels": false, "title": null}
          }
        },
        "layer": [
          {
            "mark": {"type": "area", "color": "#cccccc", "opacity": 1, "interpolate": "monotone"},
            "encoding": {
              "y": {
                "field": "lo", "type": "quantitative",
                "scale": {"domain": [0, 1], "nice": false},
                "axis": {"values": [0, 0.5, 1], "format": "~g", "title": null, "labelPadding": 0, "labelOverlap": false}
              },
              "y2": {"field": "hi"}
            }
          },
          {
            "mark": {"type": "line", "color": "#000000", "strokeWidth": 2, "interpolate": "monotone"},
            "encoding": {
              "y": {
                "field": "mean", "type": "quantitative",
                "axis": {"values": [0, 0.5, 1], "format": "~g", "title": null, "labelPadding": 0, "labelOverlap": false}
              }
            }
          }
        ]
      },
      "resolve": {"axis": {"x": "independent"}}
    },
    {
      "data": {"name": "acc"},
      "columns": 4,
      "spacing": {"row": 16, "column": 40},
      "facet": {
        "field": "panel", "type": "nominal",
        "sort": ["Pelvis Acceleration", "Hip Acceleration", "Knee Acceleration", "Ankle Acceleration"],
        "header": {"title": null}
      },
      "spec": {
        "width": 151,
        "height": 70,
        "encoding": {
          "x": {
            "field": "x", "type": "quantitative",
            "scale": {"domain": [0, 100], "nice": false},
            "axis": {"values": [0, 50, 100], "title": "gait cycle [%]", "labelPadding": 14, "titlePadding": 4}
          }
        },
        "layer": [
          {
            "mark": {"type": "area", "color": "#cccccc", "opacity": 1, "interpolate": "monotone"},
            "encoding": {
              "y": {
                "field": "lo", "type": "quantitative",
                "scale": {"domain": [-1, 1], "nice": false},
                "axis": {"values": [-1, 0, 1], "format": "~g", "title": null, "labelPadding": 0, "labelOverlap": false}
              },
              "y2": {"field": "hi"}
            }
          },
          {
            "mark": {"type": "line", "color": "#000000", "strokeWidth": 2, "interpolate": "monotone"},
            "encoding": {
              "y": {
                "field": "mean", "type": "quantitative",
                "axis": {"values": [-1, 0, 1], "format": "~g", "title": null, "labelPadding": 0, "labelOverlap": false}
              }
            }
          }
        ]
      },
      "resolve": {"axis": {"x": "independent"}}
    }
  ]
}
